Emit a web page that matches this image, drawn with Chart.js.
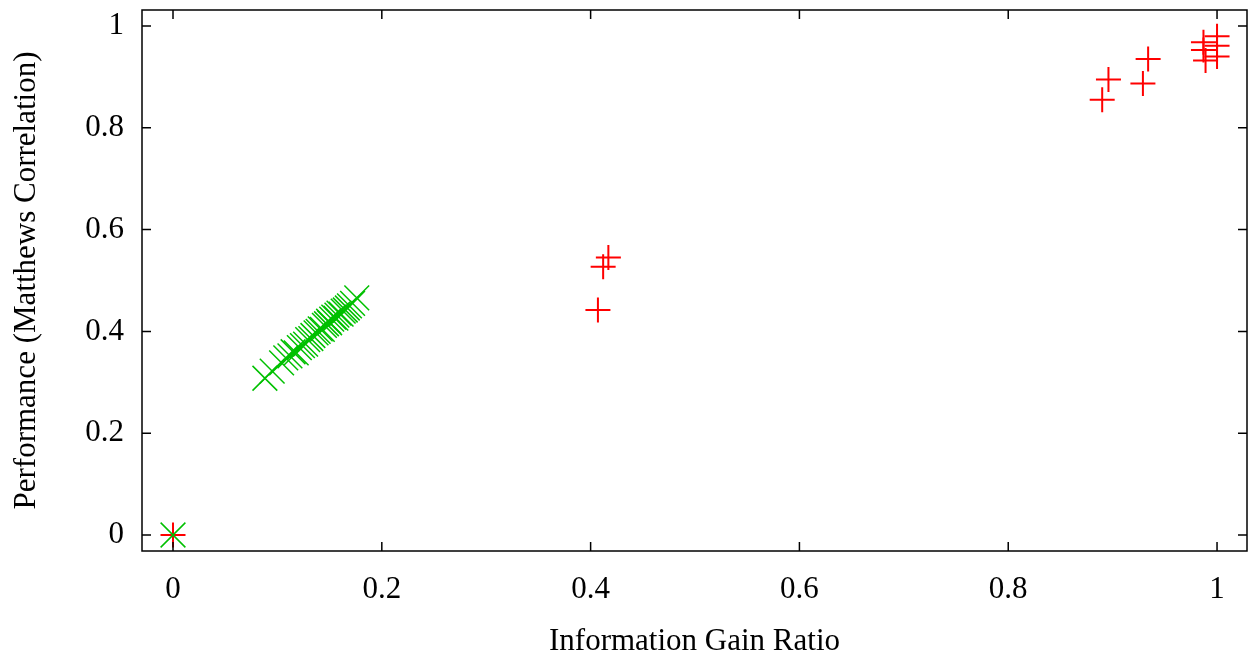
<!DOCTYPE html>
<html>
<head>
<meta charset="utf-8">
<script src="https://cdn.jsdelivr.net/npm/chart.js@4"></script>
<style>
  html, body { margin: 0; padding: 0; background: #fff; overflow: hidden; }
  #wrap { width: 1248px; height: 655px; }
</style>
</head>
<body>
<div id="wrap"><canvas id="scatter"></canvas></div>
<script>
// --- data ---
const tickValues = [0, 0.2, 0.4, 0.6, 0.8, 1];

const redX = [0, 0.407, 0.412, 0.417, 0.890, 0.896, 0.929, 0.934,
              1.000, 0.987, 1.000, 0.987, 1.000, 0.989];
const redY = [0, 0.442, 0.527, 0.545, 0.855, 0.895, 0.887, 0.935,
              0.980, 0.968, 0.961, 0.953, 0.940, 0.932];

const greenX = [0, 0.088, 0.095, 0.104, 0.108, 0.112, 0.115, 0.118, 0.121,
                0.124, 0.127, 0.129, 0.132, 0.134, 0.137, 0.139, 0.141,
                0.143, 0.145, 0.147, 0.149, 0.150, 0.152, 0.154, 0.156,
                0.157, 0.159, 0.161, 0.163, 0.165, 0.167, 0.169, 0.172, 0.176];
const greenY = [0, 0.308, 0.322, 0.338, 0.348, 0.352, 0.360, 0.358, 0.368,
                0.372, 0.375, 0.384, 0.386, 0.392, 0.397, 0.400, 0.405,
                0.404, 0.412, 0.415, 0.420, 0.417, 0.424, 0.428, 0.426,
                0.432, 0.436, 0.434, 0.440, 0.442, 0.446, 0.450, 0.455, 0.466];

const toPoints = (xs, ys) => xs.map((x, i) => ({ x: x, y: ys[i] }));
const fmt = v => String(+(+v).toFixed(1));

// frame + inward ticks on all four sides (gnuplot style)
const framePlugin = {
    id: 'frame',
    afterDatasetsDraw(chart) {
        const { ctx, chartArea: a, scales } = chart;
        const len = 9;
        ctx.save();
        ctx.strokeStyle = '#000';
        ctx.lineWidth = 1.5;
        ctx.strokeRect(a.left, a.top, a.right - a.left, a.bottom - a.top);
        ctx.beginPath();
        tickValues.forEach(v => {
            const px = scales.x.getPixelForValue(v);
            ctx.moveTo(px, a.bottom); ctx.lineTo(px, a.bottom - len);
            ctx.moveTo(px, a.top); ctx.lineTo(px, a.top + len);
            const py = scales.y.getPixelForValue(v);
            ctx.moveTo(a.left, py); ctx.lineTo(a.left + len, py);
            ctx.moveTo(a.right, py); ctx.lineTo(a.right - len, py);
        });
        ctx.stroke();
        ctx.restore();
    }
};

const font = "'Liberation Serif', 'DejaVu Serif', serif";

// drop the label overhang padding so the plot box sits where it does in the reference
const noOverhang = s => {
    s.paddingTop = 0; s.paddingBottom = 0;
    s.paddingLeft = 0; s.paddingRight = 0;
};

new Chart(document.getElementById('scatter'), {
    type: 'scatter',
    data: {
        datasets: [
            {
                label: 'green',
                data: toPoints(greenX, greenY),
                pointStyle: 'crossRot',
                pointRadius: 17.5,
                pointHoverRadius: 17.5,
                borderColor: '#00c000',
                borderWidth: 1.5,
                backgroundColor: '#00c000'
            },
            {
                label: 'red',
                data: toPoints(redX, redY),
                pointStyle: 'cross',
                pointRadius: 12.5,
                pointHoverRadius: 12.5,
                borderColor: '#ff0000',
                borderWidth: 2,
                backgroundColor: '#ff0000'
            }
        ]
    },
    options: {
        responsive: true,
        maintainAspectRatio: false,
        animation: false,
        layout: { autoPadding: false, padding: { top: 10, right: 1, left: 0, bottom: 0 } },
        plugins: { legend: { display: false }, tooltip: { enabled: false } },
        scales: {
            x: {
                type: 'linear',
                min: -0.0297,
                max: 1.0287,
                afterBuildTicks: s => { s.ticks = tickValues.map(v => ({ value: v })); },
                afterFit: s => { s.height = 104; noOverhang(s); },
                grid: { display: false },
                border: { display: false },
                ticks: { callback: fmt, color: '#000', font: { family: font, size: 31 }, padding: 12, maxRotation: 0 },
                title: { display: true, text: 'Information Gain Ratio', color: '#000',
                         font: { family: font, size: 31, lineHeight: 0.62 }, padding: { top: 0 } }
            },
            y: {
                type: 'linear',
                min: -0.0314,
                max: 1.0314,
                afterBuildTicks: s => { s.ticks = tickValues.map(v => ({ value: v })); },
                afterFit: s => { s.width = 142; noOverhang(s); },
                grid: { display: false },
                border: { display: false },
                ticks: { callback: fmt, color: '#000', font: { family: font, size: 31 }, padding: 10 },
                title: { display: true, text: 'Performance (Matthews Correlation)', color: '#000',
                         font: { family: font, size: 31 }, padding: { top: 8 } }
            }
        }
    },
    plugins: [framePlugin]
});
</script>
</body>
</html>
